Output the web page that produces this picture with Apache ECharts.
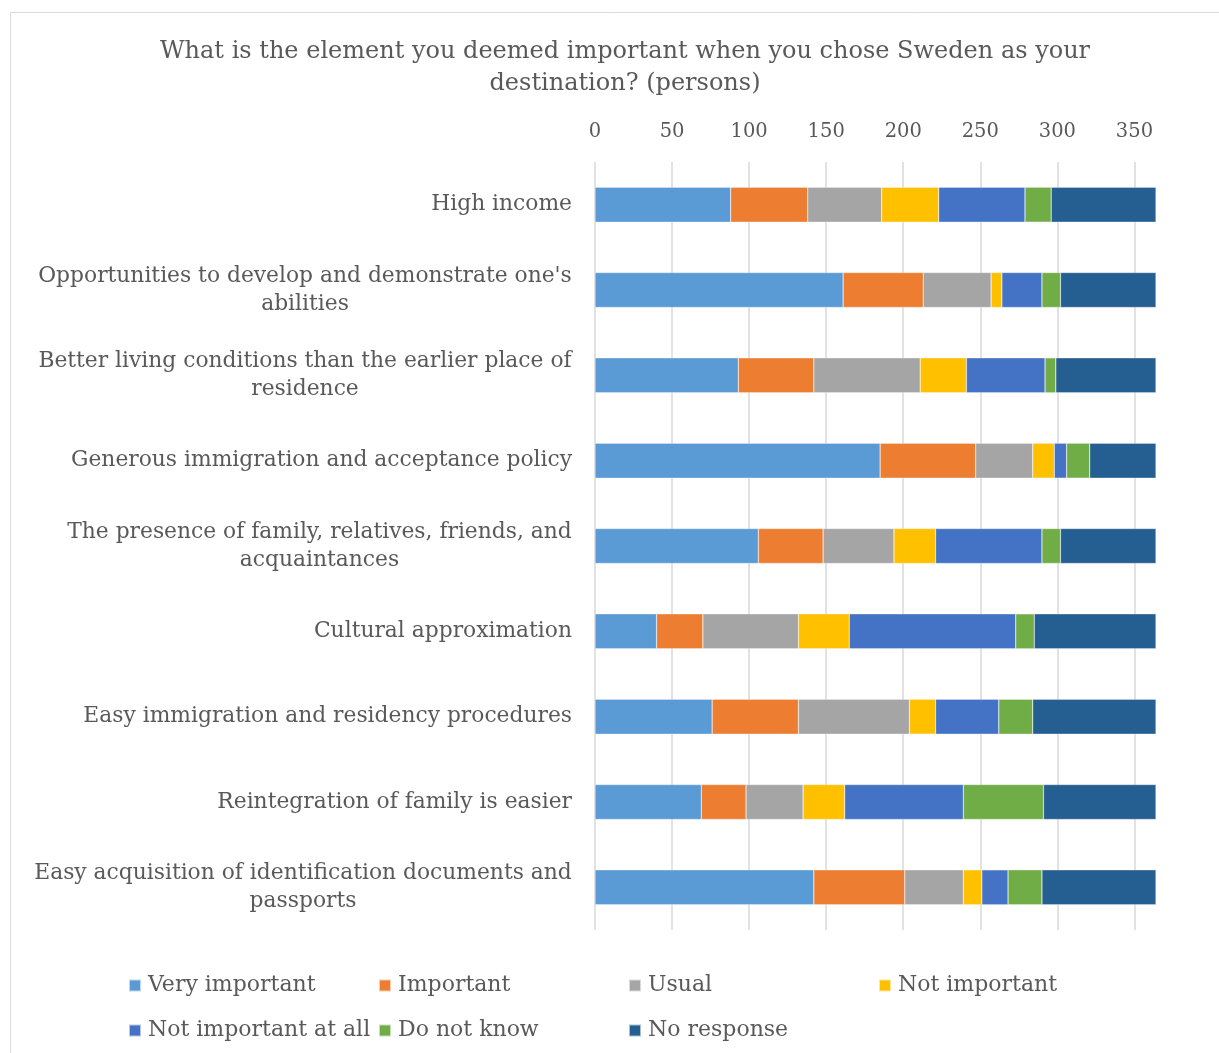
<!DOCTYPE html>
<html>
<head>
<meta charset="utf-8">
<script src="https://cdn.jsdelivr.net/npm/echarts@6/dist/echarts.min.js"></script>
<style>
  html, body { margin: 0; padding: 0; background: #fff; }
  #chart { width: 1219px; height: 1053px; }
</style>
</head>
<body>
<div id="chart"></div>
<script>
var categories = [
  'High income',
  "Opportunities to develop and demonstrate one's\nabilities",
  'Better living conditions than the earlier place of\nresidence',
  'Generous immigration and acceptance policy',
  'The presence of family, relatives, friends, and\nacquaintances',
  'Cultural approximation',
  'Easy immigration and residency procedures',
  'Reintegration of family is easier',
  'Easy acquisition of identification documents and\npassports'
];
var seriesNames = ['Very important', 'Important', 'Usual', 'Not important', 'Not important at all', 'Do not know', 'No response'];
var veryImportant = [88, 161, 93, 185, 106, 40, 76, 69, 142];
var important = [50, 52, 49, 62, 42, 30, 56, 29, 59];
var usual = [48, 44, 69, 37, 46, 62, 72, 37, 38];
var notImportant = [37, 7, 30, 14, 27, 33, 17, 27, 12];
var notAtAll = [56, 26, 51, 8, 69, 108, 41, 77, 17];
var doNotKnow = [17, 12, 7, 15, 12, 12, 22, 52, 22];
var noResponse = [68, 62, 65, 43, 62, 79, 80, 73, 74];
var xTicks = [0, 50, 100, 150, 200, 250, 300, 350];

var colors = ['#5B9BD5', '#ED7D31', '#A5A5A5', '#FFC000', '#4472C4', '#70AD47', '#255E91'];
var values = [veryImportant, important, usual, notImportant, notAtAll, doNotKnow, noResponse];
var font = '"DejaVu Serif", serif';
var labelSize = 21.8;

// measure lines so two-line labels are centred inside their own block
var ctx = document.createElement('canvas').getContext('2d');
ctx.font = labelSize + 'px "DejaVu Serif"';
var rich = {};
categories.forEach(function (c, i) {
  var lines = c.split('\n');
  var w = Math.max.apply(null, lines.map(function (l) { return ctx.measureText(l).width; }));
  rich['c' + i] = { width: Math.ceil(w), align: 'center', fontSize: labelSize, fontFamily: font, color: '#595959', lineHeight: 28 };
});

var myChart = echarts.init(document.getElementById('chart'));
var option = {
  backgroundColor: '#fff',
  color: colors,
  title: {
    text: 'What is the element you deemed important when you chose Sweden as your\ndestination? (persons)',
    left: 620,
    textAlign: 'center',
    top: 31,
    textStyle: { fontFamily: font, fontSize: 24, fontWeight: 'normal', color: '#595959', lineHeight: 32 }
  },
  graphic: [{
    type: 'rect',
    shape: { x: 10.5, y: 12.5, width: 1220, height: 1050 },
    style: { fill: 'none', stroke: '#d9d9d9', lineWidth: 1 },
    silent: true
  }],
  legend: {
    data: seriesNames,
    left: 123,
    top: 958,
    width: 1100,
    icon: 'rect',
    itemWidth: 12,
    itemHeight: 12,
    itemGap: 0,
    textStyle: { fontFamily: font, fontSize: 22, color: '#595959', width: 230, height: 45, lineHeight: 45, padding: [0, 0, 0, 2], overflow: 'none' }
  },
  grid: { left: 595, right: 63, top: 162, bottom: 123, containLabel: false, outerBoundsMode: 'none' },
  xAxis: {
    type: 'value',
    position: 'top',
    min: 0,
    max: 364,
    interval: 50,
    axisLine: { show: false },
    axisTick: { show: false },
    axisLabel: {
      margin: 20,
      showMaxLabel: false,
      fontFamily: font,
      fontSize: 19.5,
      color: '#595959',
      formatter: function (v) { return xTicks.indexOf(v) >= 0 ? String(v) : ''; }
    },
    splitLine: { show: true, showMaxLine: false, lineStyle: { color: '#d9d9d9', width: 1.5 } }
  },
  yAxis: {
    type: 'category',
    inverse: true,
    data: categories,
    axisLine: { show: false },
    axisTick: { show: false },
    axisLabel: {
      margin: 23,
      fontFamily: font,
      fontSize: labelSize,
      color: '#595959',
      lineHeight: 28,
      rich: rich,
      formatter: function (v, i) {
        var lines = v.split('\n');
        if (lines.length === 1) return v;
        return lines.map(function (l) { return '{c' + i + '|' + l + '}'; }).join('\n');
      }
    }
  },
  series: seriesNames.map(function (name, k) {
    return {
      name: name,
      type: 'bar',
      stack: 'total',
      barCategoryGap: '59%',
      data: values[k],
      itemStyle: { borderColor: 'rgba(255,255,255,0.6)', borderWidth: 0.5 }
    };
  })
};
myChart.setOption(option);
</script>
</body>
</html>
